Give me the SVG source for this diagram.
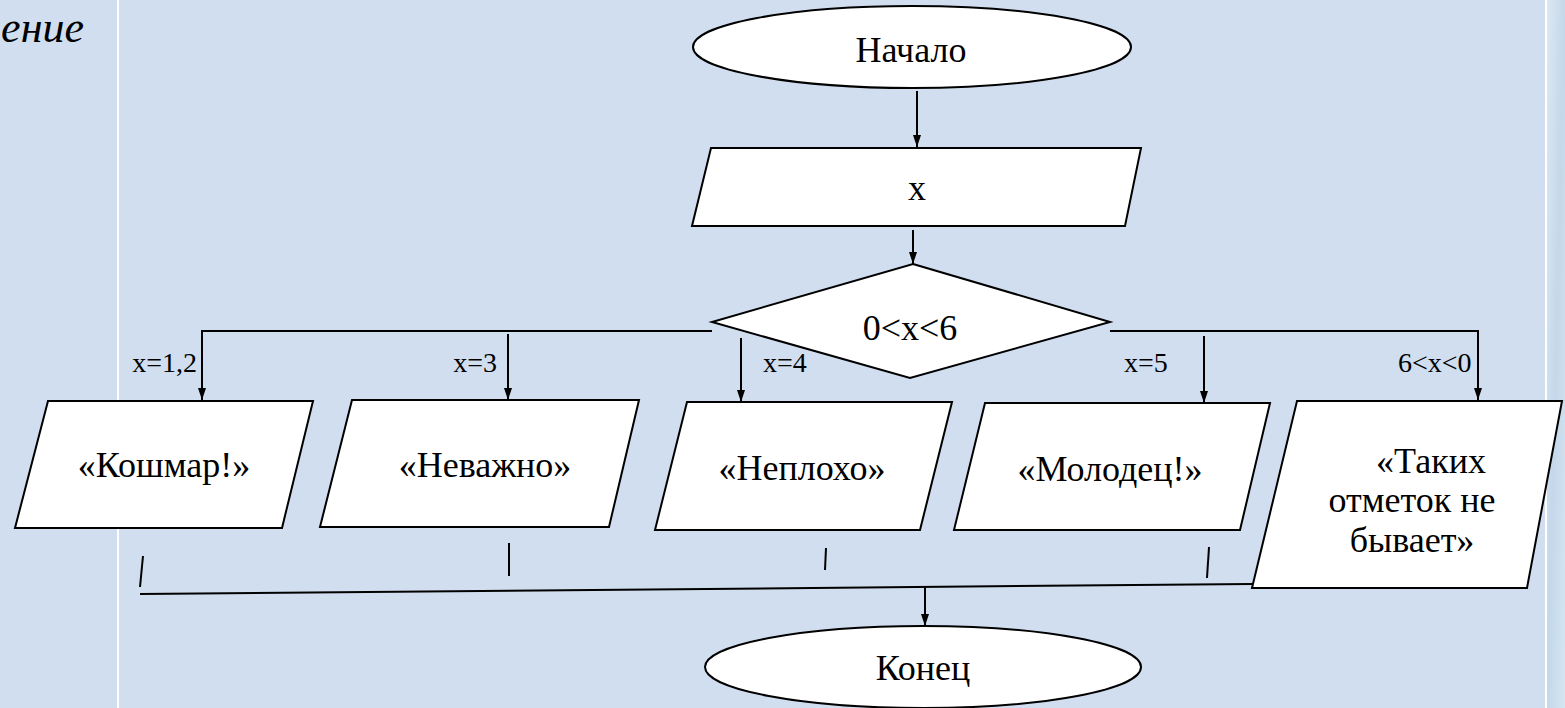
<svg xmlns="http://www.w3.org/2000/svg" width="1565" height="708" viewBox="0 0 1565 708">
<style>
.bg{fill:#D0DEEF}
.shape{fill:#FFFFFF;stroke:#000;stroke-width:2}
.ln{fill:none;stroke:#000;stroke-width:2}
.t{font-family:'Liberation Serif','Times New Roman',serif;font-size:36px;fill:#000;text-anchor:middle}
.lb{font-family:'Liberation Serif','Times New Roman',serif;font-size:28px;fill:#000}
.it{font-family:'Liberation Serif','Times New Roman',serif;font-style:italic;font-size:44px;fill:#000;text-anchor:end}
</style>
<defs>
<marker id="arr" viewBox="0 0 12 8" refX="12" refY="4" markerWidth="12" markerHeight="8" markerUnits="userSpaceOnUse" orient="auto">
<path d="M0,0 L12,4 L0,8 z" fill="#000"/>
</marker>
<linearGradient id="edge" x1="0" y1="0" x2="1" y2="1">
<stop offset="0" stop-color="#DCE8F3"/>
<stop offset="0.5" stop-color="#C4D8EA"/>
<stop offset="1" stop-color="#D6E6F2"/>
</linearGradient>
</defs>
<rect class="bg" x="0" y="0" width="1565" height="708"/>
<rect x="117" y="0" width="2" height="708" fill="#FFFFFF"/>
<rect x="1547" y="0" width="18" height="708" fill="url(#edge)"/>
<rect x="1545" y="0" width="2" height="708" fill="#FFFFFF"/>
<text class="it" x="84" y="42">ение</text>

<g id="connectors">
<line class="ln" x1="917" y1="91" x2="917" y2="147" marker-end="url(#arr)"/>
<line class="ln" x1="913" y1="230" x2="913" y2="264" marker-end="url(#arr)"/>
<polyline class="ln" points="712,331 202,331 202,400" marker-end="url(#arr)"/>
<polyline class="ln" points="1110,331 1478,331 1478,400" marker-end="url(#arr)"/>
<line class="ln" x1="508" y1="334" x2="508" y2="400" marker-end="url(#arr)"/>
<line class="ln" x1="741" y1="338" x2="741" y2="402" marker-end="url(#arr)"/>
<line class="ln" x1="1204" y1="336" x2="1204" y2="403" marker-end="url(#arr)"/>
<line class="ln" x1="143" y1="556" x2="140" y2="587"/>
<line class="ln" x1="509" y1="543" x2="509" y2="576"/>
<line class="ln" x1="826" y1="548" x2="825" y2="570"/>
<line class="ln" x1="1209" y1="547" x2="1207" y2="578"/>
<line class="ln" x1="140" y1="594" x2="1252" y2="584"/>
<line class="ln" x1="925" y1="586" x2="925" y2="626" marker-end="url(#arr)"/>
<text class="lb" x="197" y="372" text-anchor="end">x=1,2</text>
<text class="lb" x="497" y="372" text-anchor="end">x=3</text>
<text class="lb" x="763" y="372">x=4</text>
<text class="lb" x="1124" y="372">x=5</text>
<text class="lb" x="1398" y="372">6&lt;x&lt;0</text>
</g>

<g id="start">
<ellipse class="shape" cx="912" cy="47" rx="219" ry="41"/>
<text class="t" x="911" y="62">Начало</text>
</g>
<g id="input">
<polygon class="shape" points="711,148 1141,148 1125,226 692,226"/>
<text class="t" x="917" y="200">x</text>
</g>
<g id="decision">
<polygon class="shape" points="913,264 1110,322 910,378 712,322"/>
<text class="t" x="910" y="340">0&lt;x&lt;6</text>
</g>
<g id="out1">
<polygon class="shape" points="48,401 313,401 282,528 15,528"/>
<text class="t" x="164" y="477">«Кошмар!»</text>
</g>
<g id="out2">
<polygon class="shape" points="352,400 639,400 609,527 320,527"/>
<text class="t" x="485" y="477">«Неважно»</text>
</g>
<g id="out3">
<polygon class="shape" points="687,402 952,402 920,530 655,530"/>
<text class="t" x="802" y="480">«Неплохо»</text>
</g>
<g id="out4">
<polygon class="shape" points="985,403 1270,403 1240,530 954,530"/>
<text class="t" x="1110" y="481">«Молодец!»</text>
</g>
<g id="out5">
<polygon class="shape" points="1297,401 1562,401 1527,588 1252,588"/>
<text class="t" x="1431" y="473">«Таких</text>
<text class="t" x="1412" y="512">отметок не</text>
<text class="t" x="1412" y="552">бывает»</text>
</g>
<g id="end">
<ellipse class="shape" cx="923" cy="667" rx="218" ry="41"/>
<text class="t" x="923" y="680">Конец</text>
</g>
</svg>
